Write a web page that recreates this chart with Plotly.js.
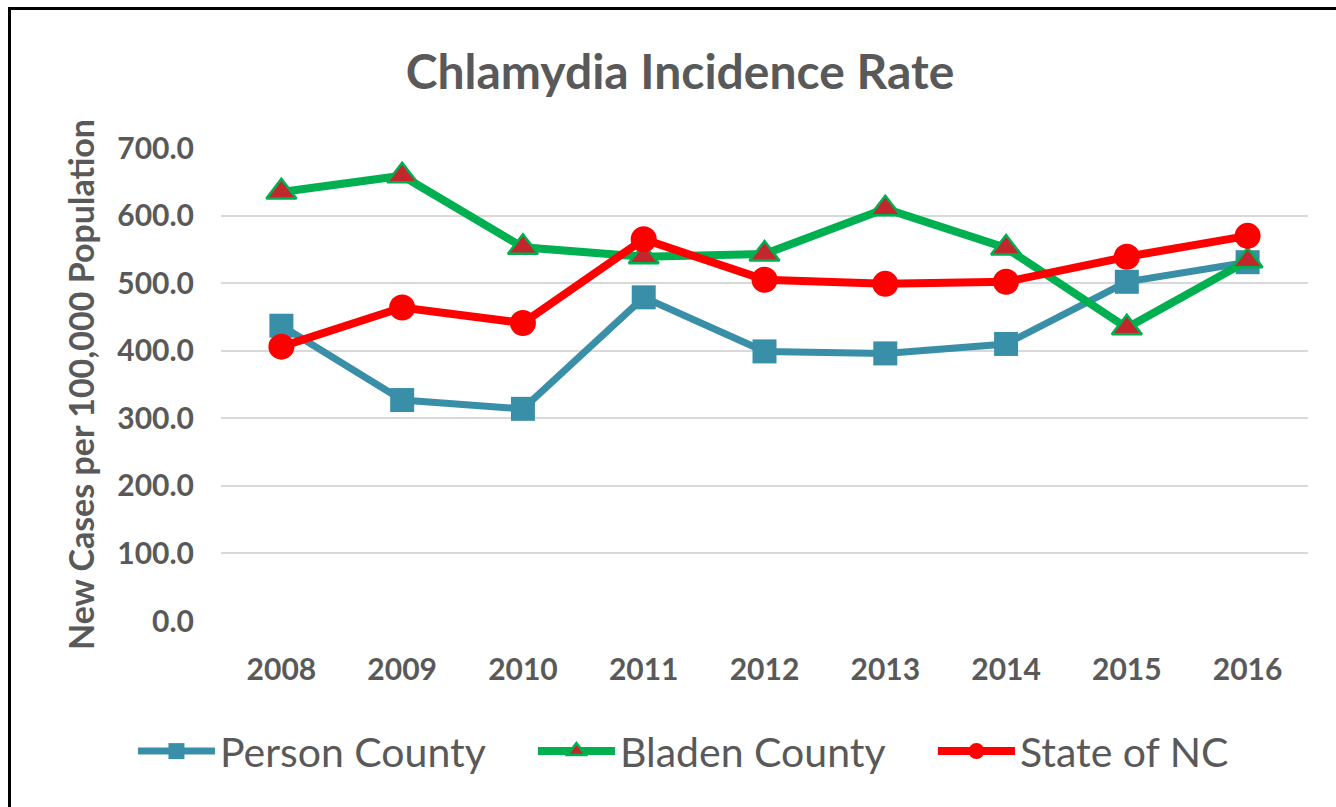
<!DOCTYPE html>
<html>
<head>
<meta charset="utf-8">
<script src="https://cdn.plot.ly/plotly-3.0.1.min.js"></script>
<style>
  html, body { margin: 0; padding: 0; background: #fff; overflow: hidden; }
  #chart { width: 1336px; height: 807px; }
  #frame { position: absolute; left: 8px; top: 7px; width: 1400px; height: 900px;
           border: 3px solid #000; pointer-events: none; }
</style>
</head>
<body>
<div id="chart"></div>
<div id="frame"></div>
<script>
// chart data
var years = ["2008", "2009", "2010", "2011", "2012", "2013", "2014", "2015", "2016"];
var personCounty = [437, 327, 314, 479, 399, 396, 410, 502, 531];
var bladenCounty = [635, 659, 553, 539, 543, 610, 552, 434, 533];
var stateNC = [406, 464, 441, 565, 505, 499, 502, 539, 570];

var textGrey = "#595959";

var person = {
    x: years, y: personCounty, name: "Person County",
    type: "scatter", mode: "lines+markers",
    line: {color: "#3A8FA8", width: 7},
    marker: {symbol: "square", size: 24, color: "#3A8FA8"}
};

var bladen = {
    x: years, y: bladenCounty, name: "Bladen County",
    type: "scatter", mode: "lines+markers",
    line: {color: "#00B050", width: 8},
    marker: {symbol: "triangle-up", size: 26, color: "#C0282D",
             line: {color: "#00B050", width: 2.5}}
};

var state = {
    x: years, y: stateNC, name: "State of NC",
    type: "scatter", mode: "lines+markers",
    line: {color: "#FF0000", width: 8},
    marker: {symbol: "circle", size: 26, color: "#FF0000"}
};

var layout = {
    width: 1336, height: 807,
    paper_bgcolor: "#fff", plot_bgcolor: "#fff",
    margin: {l: 221, r: 28, t: 148, b: 186},
    font: {family: "Lato, 'Open Sans', sans-serif", color: textGrey},
    title: {text: "<b>Chlamydia Incidence Rate</b>",
            font: {size: 48, color: textGrey},
            x: 0.509, xref: "container", xanchor: "center", y: 0.91, yanchor: "middle"},
    xaxis: {
        type: "category", range: [-0.5, 8.5],
        showgrid: false, zeroline: false, showline: false,
        ticks: "", ticklabelstandoff: 28,
        tickfont: {size: 30, color: textGrey, weight: "bold"}
    },
    yaxis: {
        range: [0, 700], dtick: 100, tickformat: ".1f",
        showgrid: true, gridcolor: "#D9D9D9", gridwidth: 2,
        zeroline: false, showline: false, ticks: "",
        ticklabelstandoff: 26,
        tickfont: {size: 30, color: textGrey, weight: "bold"},
        title: {text: "<b>New Cases per 100,000 Population</b>",
                font: {size: 34, color: textGrey}, standoff: 12}
    },
    legend: {
        orientation: "h", x: -0.081, xanchor: "left", y: -0.205, yanchor: "top",
        font: {size: 41, color: textGrey}, itemwidth: 77,
        entrywidth: 308, entrywidthmode: "pixels"
    },
    showlegend: true
};

Plotly.newPlot("chart", [person, bladen, state], layout, {displayModeBar: false, staticPlot: true});
</script>
</body>
</html>
